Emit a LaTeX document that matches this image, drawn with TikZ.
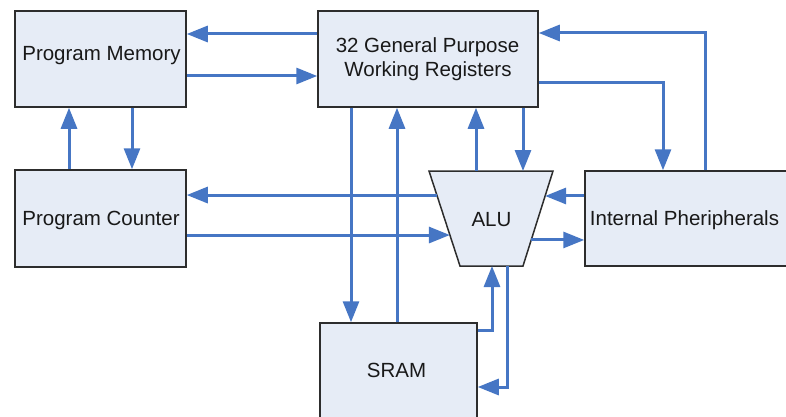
\documentclass[tikz,border=0pt]{standalone}
\usepackage{fontspec}
\setmainfont{Liberation Sans}
\usetikzlibrary{arrows.meta,calc}
\definecolor{arrblue}{RGB}{70,118,196}
\definecolor{boxfill}{RGB}{230,236,246}
\definecolor{boxline}{RGB}{45,45,45}
\definecolor{txt}{RGB}{25,25,25}
\begin{document}
\begin{tikzpicture}[x=1pt,y=-1pt,
  box/.style={draw=boxline,line width=1.5pt,fill=boxfill,inner sep=0pt},
  lbl/.style={anchor=base,inner sep=0pt,text=txt,font=\fontsize{20.5}{24}\selectfont},
  arr/.style={draw=arrblue,line width=3pt,-{Triangle[length=21pt,width=16pt]}}]
\useasboundingbox (0,0) rectangle (786,417);
% boxes
\node[box,minimum width=171pt,minimum height=96pt] (pm) at (100.5,59) {};
\node[box,minimum width=171pt,minimum height=97pt] (pc) at (100.5,218.5) {};
\node[box,minimum width=220pt,minimum height=96pt] (reg) at (428,59) {};
\node[box,minimum width=157pt,minimum height=100pt] (sram) at (398.5,373) {};
\node[box,minimum width=210pt,minimum height=95pt] (ip) at (690,218.5) {};
% ALU trapezoid
\coordinate (aluTL) at (429,171);
\coordinate (aluTR) at (553,171);
\coordinate (aluBR) at (523,266);
\coordinate (aluBL) at (460,266);
\draw[box] (aluTL) -- (aluTR) -- (aluBR) -- (aluBL) -- cycle;
% labels
\node[lbl] (pmt) at (101.5,61) {Program Memory};
\node[lbl] (pct) at (101,225) {Program Counter};
\node[lbl] (regt1) at (427.5,53) {32 General Purpose};
\node[lbl] (regt2) at (428,77) {Working Registers};
\node[lbl] (alu) at (491.5,226) {ALU};
\node[lbl] (sramt) at (396.5,377) {SRAM};
\node[lbl] (ipt) at (684.5,225) {Internal Pheripherals};
% ALU edge points
\coordinate (aluL1) at ($(aluTL)!0.253!(aluBL)$);
\coordinate (aluL2) at ($(aluTL)!0.674!(aluBL)$);
\coordinate (aluR1) at ($(aluTR)!0.263!(aluBR)$);
\coordinate (aluR2) at ($(aluTR)!0.726!(aluBR)$);
\coordinate (aluT1) at ($(aluTL)!0.379!(aluTR)$);
\coordinate (aluT2) at ($(aluTL)!0.758!(aluTR)$);
\coordinate (aluB1) at ($(aluBL)!0.508!(aluBR)$);
\coordinate (aluB2) at ($(aluBL)!0.746!(aluBR)$);
% connectors
\draw[arr] (reg.west |- 0,34) -- (pm.east |- 0,34);
\draw[arr] (pm.east |- 0,76) -- (reg.west |- 0,76);
\draw[arr] (pc.north -| 69,0) -- (pm.south -| 69,0);
\draw[arr] (pm.south -| 132,0) -- (pc.north -| 132,0);
\draw[arr] (aluL1) -- (pc.east |- aluL1);
\draw[arr] (pc.east |- aluL2) -- (aluL2);
\draw[arr] (reg.south -| 351,0) -- (sram.north -| 351,0);
\draw[arr] (sram.north -| 397,0) -- (reg.south -| 397,0);
\draw[arr] (aluT1) -- (reg.south -| aluT1);
\draw[arr] (reg.south -| aluT2) -- (aluT2);
\draw[arr] (reg.east |- 0,83) -- (663,83) -- (ip.north -| 663,0);
\draw[arr] (ip.north -| 705,0) -- (705,33) -- (reg.east |- 0,33);
\draw[arr] (ip.west |- aluR1) -- (aluR1);
\draw[arr] (aluR2) -- (ip.west |- aluR2);
\draw[arr] (sram.east |- 0,330) -- (aluB1 |- 0,330) -- (aluB1);
\draw[arr] (aluB2) -- (aluB2 |- 0,387) -- (sram.east |- 0,387);
\end{tikzpicture}
\end{document}
